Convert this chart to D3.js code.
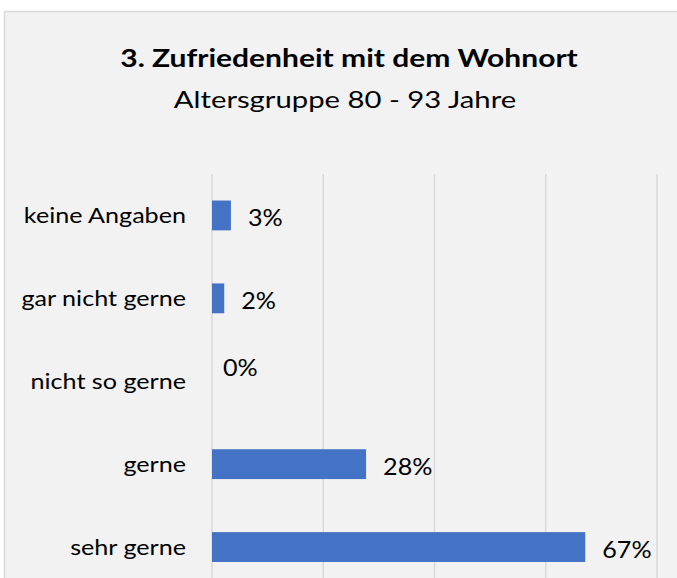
<!DOCTYPE html>
<html>
<head>
<meta charset="utf-8">
<script src="https://cdn.jsdelivr.net/npm/d3@7"></script>
<style>
  body { margin: 0; background: #fff; }
  text { font-family: Lato, "Open Sans", sans-serif; fill: #000; }
</style>
</head>
<body>
<svg id="chart" width="677" height="578"></svg>
<script>
const categories = ['keine Angaben', 'gar nicht gerne', 'nicht so gerne', 'gerne', 'sehr gerne'];
const values = [3.4, 2.2, 0, 27.7, 67.1];
const xTicks = [0, 20, 40, 60, 80];
const title = '3. Zufriedenheit mit dem Wohnort';
const subtitle = 'Altersgruppe 80 - 93 Jahre';

const W = 677, H = 578;
const PLOT = { left: 212, right: 657, top: 174, bottom: 588.5 };

const svg = d3.select('#chart');

// chart area background
svg.append('rect')
  .attr('x', 4.5).attr('y', 11.5)
  .attr('width', 720).attr('height', 620)
  .attr('fill', '#f2f2f2')
  .attr('stroke', '#d9d9d9')
  .attr('stroke-width', 1.5);

// text is a bit wider than Lato, so stretch horizontally
svg.append('text')
  .attr('transform', 'translate(349,67) scale(1.25,1)')
  .attr('text-anchor', 'middle')
  .style('font-size', '24px')
  .style('font-weight', 'bold')
  .text(title);

svg.append('text')
  .attr('transform', 'translate(345,108) scale(1.22,1)')
  .attr('text-anchor', 'middle')
  .style('font-size', '24px')
  .text(subtitle);

const x = d3.scaleLinear().domain([0, 80]).range([PLOT.left, PLOT.right]);
const y = d3.scaleBand()
  .domain(categories)
  .range([PLOT.top, PLOT.bottom])
  .paddingInner(0.64)
  .paddingOuter(0.32);

// vertical gridlines
svg.append('g')
  .selectAll('line')
  .data(xTicks)
  .join('line')
  .attr('x1', (d) => x(d)).attr('x2', (d) => x(d))
  .attr('y1', PLOT.top).attr('y2', H)
  .attr('stroke', '#d9d9d9')
  .attr('stroke-width', 1.5);

// category axis labels
const yAxis = svg.append('g')
  .attr('transform', `translate(${PLOT.left - 26},0)`)
  .call(d3.axisLeft(y).tickSize(0).tickPadding(0));
yAxis.select('.domain').remove();
yAxis.selectAll('text')
  .attr('dy', null)
  .attr('x', 0)
  .attr('y', 8)
  .attr('transform', 'scale(1.17,1)')
  .style('font-size', '21.5px')
  .style('font-family', 'Lato, "Open Sans", sans-serif')
  .attr('fill', '#000');

const rows = categories.map((c, i) => ({ c, v: values[i] }));

svg.append('g')
  .selectAll('rect')
  .data(rows)
  .join('rect')
  .attr('x', x(0))
  .attr('y', (d) => y(d.c))
  .attr('width', (d) => x(d.v) - x(0))
  .attr('height', y.bandwidth())
  .attr('fill', '#4472c4');

// zero label sits above the (empty) bar, as in the source
svg.append('g')
  .selectAll('text')
  .data(rows)
  .join('text')
  .attr('transform', (d) => {
    const tx = x(d.v) + (d.v === 0 ? 11 : 17);
    const ty = y(d.c) + y.bandwidth() / 2 + (d.v === 0 ? -5 : 11);
    return `translate(${tx},${ty}) scale(1.07,1)`;
  })
  .style('font-size', '23.5px')
  .text((d) => `${Math.round(d.v)}%`);
</script>
</body>
</html>
